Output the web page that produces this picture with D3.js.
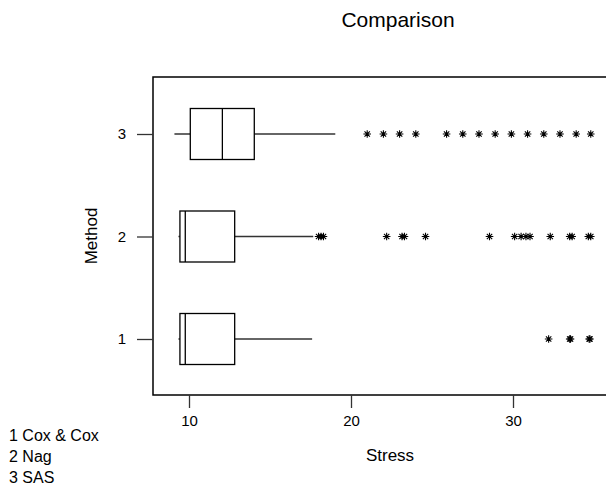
<!DOCTYPE html>
<html><head><meta charset="utf-8">
<script src="https://cdn.jsdelivr.net/npm/d3@7"></script>
<style>body{margin:0;background:#fff}svg{display:block}text{font-family:"Liberation Sans",Arial,sans-serif;fill:#000}</style>
</head><body>
<svg id="c" width="606" height="499"></svg>
<script>
const methods = [1, 2, 3];
const methodNames = ["Cox & Cox", "Nag", "SAS"];
const whiskerLow = [9.35, 9.35, 9.1];
const q1 = [9.44, 9.44, 10.08];
const median = [9.77, 9.77, 12.06];
const q3 = [12.82, 12.82, 14.03];
const whiskerHigh = [17.6, 17.67, 19.03];
const outliers1 = [32.2, 33.5, 33.55, 34.7, 34.75];
const outliers2 = [18.0, 18.15, 18.3, 22.2, 23.15, 23.3, 24.6, 28.55, 30.1, 30.5, 30.8, 31.05, 32.3, 33.5, 33.65, 34.65, 34.8];
const outliers3 = [21.0, 22.0, 23.0, 24.0, 25.9, 26.9, 27.9, 28.9, 29.9, 30.9, 31.9, 32.9, 33.9, 34.8];
const xTicks = [10, 20, 30];
const yTicks = [1, 2, 3];

const svg = d3.select("#c");
const frame = {left: 153, top: 77, right: 620, bottom: 395};
const x = d3.scaleLinear().domain([10, 30]).range([189, 513]);
const y = d3.scaleLinear().domain([1, 3]).range([339, 134]);
const boxH = 51;

// frame
svg.append("rect").attr("x", frame.left).attr("y", frame.top)
  .attr("width", frame.right - frame.left).attr("height", frame.bottom - frame.top)
  .attr("fill", "none").attr("stroke", "#000").attr("stroke-width", 1.5);

// axes
const xa = svg.append("g").attr("transform", `translate(0,${frame.bottom})`)
  .call(d3.axisBottom(x).tickValues(xTicks).tickSize(13).tickPadding(7).tickFormat(d3.format("d")));
const ya = svg.append("g").attr("transform", `translate(${frame.left},0)`)
  .call(d3.axisLeft(y).tickValues(yTicks).tickSize(16).tickPadding(11).tickFormat(d3.format("d")));
[xa, ya].forEach(a => {
  a.select(".domain").remove();
  a.selectAll(".tick line").attr("stroke", "#333").attr("stroke-width", 1.3);
  a.selectAll(".tick text").attr("font-size", 15).attr("font-family", '"Liberation Sans",Arial,sans-serif').attr("fill", "#000");
});

// boxes
const boxes = methods.map((m, i) => ({m, lo: whiskerLow[i], q1: q1[i], med: median[i], q3: q3[i], hi: whiskerHigh[i]}));
const g = svg.append("g");
boxes.forEach(b => {
  const cy = y(b.m);
  g.append("line").attr("x1", x(b.lo)).attr("x2", x(b.q1)).attr("y1", cy).attr("y2", cy).attr("stroke", "#333").attr("stroke-width", 1.5);
  g.append("line").attr("x1", x(b.q3)).attr("x2", x(b.hi)).attr("y1", cy).attr("y2", cy).attr("stroke", "#333").attr("stroke-width", 1.5);
  g.append("rect").attr("x", x(b.q1)).attr("y", cy - boxH / 2).attr("width", x(b.q3) - x(b.q1)).attr("height", boxH)
    .attr("fill", "#fff").attr("stroke", "#000").attr("stroke-width", 1.3);
  g.append("line").attr("x1", x(b.med)).attr("x2", x(b.med)).attr("y1", cy - boxH / 2).attr("y2", cy + boxH / 2).attr("stroke", "#000").attr("stroke-width", 1.3);
});

// outliers as asterisks
const star = r => {
  let p = "";
  [0, 45, 90, 135].forEach(a => {
    const t = a * Math.PI / 180, dx = r * Math.cos(t), dy = r * Math.sin(t);
    p += `M${-dx},${-dy}L${dx},${dy}`;
  });
  return p;
};
[outliers1, outliers2, outliers3].forEach((arr, i) => {
  g.selectAll(null).data(arr).enter().append("path")
    .attr("transform", d => `translate(${x(d)},${y(methods[i])})`)
    .attr("d", star(3.8)).attr("stroke", "#000").attr("stroke-width", 1.1).attr("fill", "none");
});

// titles
svg.append("text").attr("x", 398).attr("y", 27).attr("text-anchor", "middle").attr("font-size", 21).text("Comparison");
svg.append("text").attr("x", 390).attr("y", 461).attr("text-anchor", "middle").attr("font-size", 17).text("Stress");
svg.append("text").attr("transform", "translate(97,236) rotate(-90)").attr("text-anchor", "middle").attr("font-size", 17).text("Method");

// legend
svg.append("g").selectAll("text").data(methods).enter().append("text")
  .attr("x", 9).attr("y", (d, i) => 441 + i * 21).attr("font-size", 16)
  .text((d, i) => `${d} ${methodNames[i]}`);
</script>
</body></html>
